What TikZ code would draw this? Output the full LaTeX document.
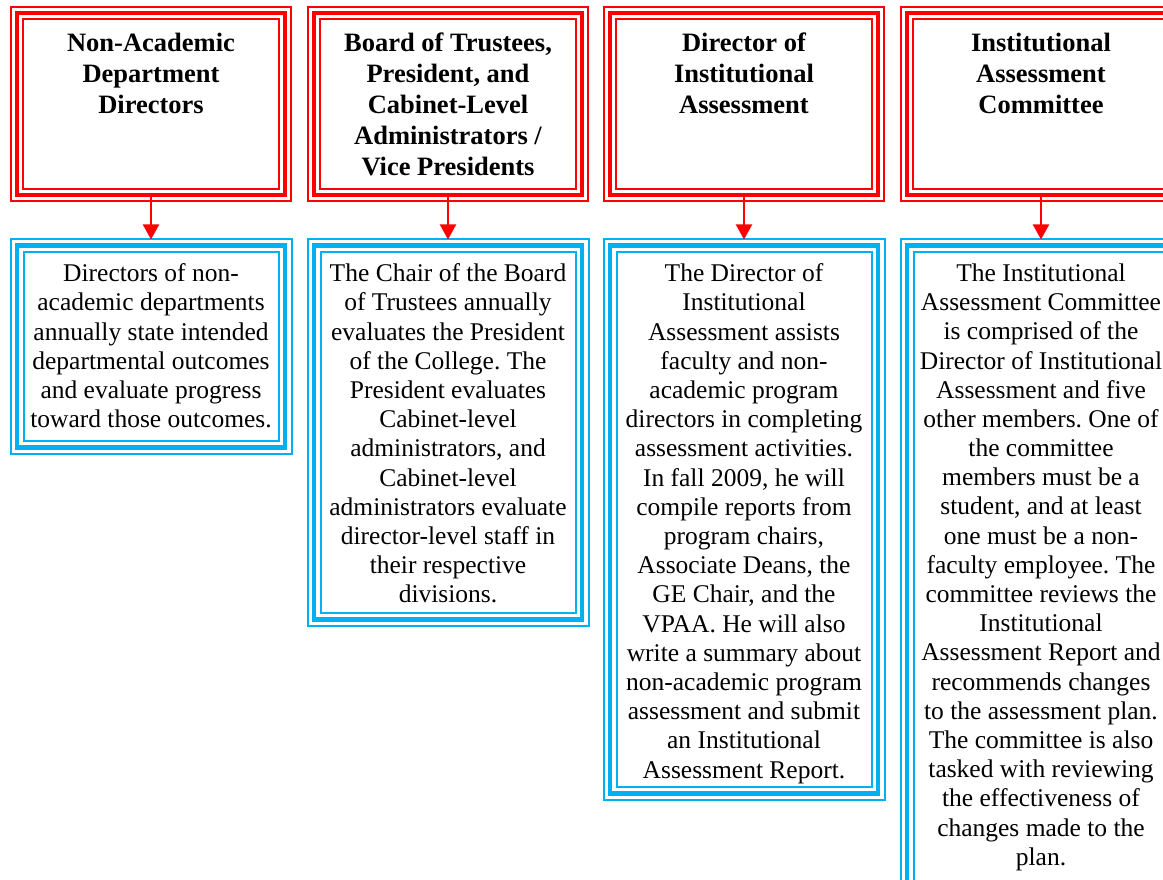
\documentclass[tikz,border=0pt]{standalone}
\usepackage{fontspec}
\setmainfont{Liberation Serif}
\frenchspacing
\usetikzlibrary{positioning,arrows.meta}
\definecolor{boxred}{RGB}{255,0,0}
\definecolor{boxblue}{RGB}{0,176,240}
\tikzset{
    headframe/.style={draw=boxred,line width=3.5pt,outer sep=0pt,minimum width=268pt,minimum height=182pt,
        preaction={draw=boxred,line width=2pt,double=white,double distance=10pt}},
    textframe/.style={draw=boxblue,line width=4.5pt,outer sep=0pt,minimum width=268pt,anchor=north,
        preaction={draw=boxblue,line width=2pt,double=white,double distance=11pt}},
    headtext/.style={align=center,inner sep=0pt,font=\fontsize{26.5}{31}\selectfont\bfseries},
    bodytext/.style={align=center,inner sep=0pt,font=\fontsize{25.5}{29.2}\selectfont},
    link/.style={color=boxred,line width=2pt,-{Triangle[width=16pt,length=15pt]},shorten >=6pt}
}
\begin{document}
    \begin{tikzpicture}[x=1pt,y=-1pt]
        \clip (0,0) rectangle (1163,880);
        % top row
        \node[headframe] (H1) at (151,104) {};
        \node[headframe] (H2) at (448,104) {};
        \node[headframe] (H3) at (744,104) {};
        \node[headframe] (H4) at (1041,104) {};
        \node[headtext,below=19.5pt of H1.north] (H1text) {Non-Academic\\Department\\Directors};
        \node[headtext,below=19.5pt of H2.north] (H2text) {Board of Trustees,\\President, and\\Cabinet-Level\\Administrators /\\Vice Presidents};
        \node[headtext,below=19.5pt of H3.north] (H3text) {Director of\\Institutional\\Assessment};
        \node[headtext,below=19.5pt of H4.north] (H4text) {Institutional\\Assessment\\Committee};
        % bottom row
        \node[textframe,minimum height=202pt] (D1) at (151,245.5) {};
        \node[textframe,minimum height=374pt] (D2) at (448,245.5) {};
        \node[textframe,minimum height=548pt] (D3) at (744,245.5) {};
        \node[textframe,minimum height=660pt] (D4) at (1041,245.5) {};
        \node[bodytext,below=18pt of D1.north] (D1text) {Directors of non-\\academic departments\\annually state intended\\departmental outcomes\\and evaluate progress\\toward those outcomes.};
        \node[bodytext,below=18pt of D2.north] (D2text) {The Chair of the Board\\of Trustees annually\\evaluates the President\\of the College. The\\President evaluates\\Cabinet-level\\administrators, and\\Cabinet-level\\administrators evaluate\\director-level staff in\\their respective\\divisions.};
        \node[bodytext,below=18pt of D3.north] (D3text) {The Director of\\Institutional\\Assessment assists\\faculty and non-\\academic program\\directors in completing\\assessment activities.\\In fall 2009, he will\\compile reports from\\program chairs,\\Associate Deans, the\\GE Chair, and the\\VPAA. He will also\\write a summary about\\non-academic program\\assessment and submit\\an Institutional\\Assessment Report.};
        \node[bodytext,below=18pt of D4.north] (D4text) {The Institutional\\Assessment Committee\\is comprised of the\\Director of Institutional\\Assessment and five\\other members. One of\\the committee\\members must be a\\student, and at least\\one must be a non-\\faculty employee. The\\committee reviews the\\Institutional\\Assessment Report and\\recommends changes\\to the assessment plan.\\The committee is also\\tasked with reviewing\\the effectiveness of\\changes made to the\\plan.};
        % arrows
        \path [link](H1) edge (D1);
        \path [link](H2) edge (D2);
        \path [link](H3) edge (D3);
        \path [link](H4) edge (D4);
    \end{tikzpicture}
\end{document}
